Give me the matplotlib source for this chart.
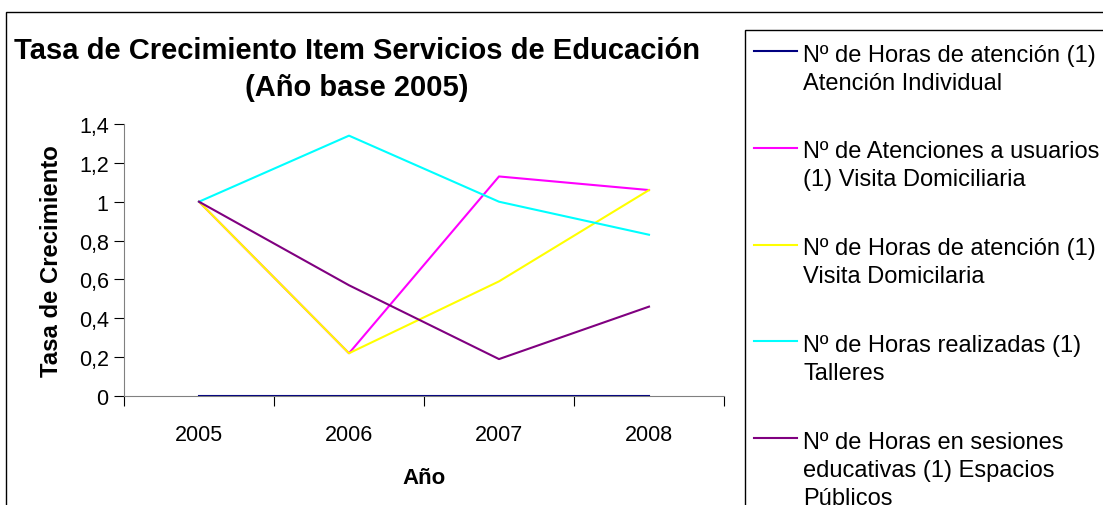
import matplotlib.pyplot as plt
from matplotlib.patches import Rectangle
from matplotlib.lines import Line2D

plt.rcParams['font.family'] = ['Liberation Sans', 'DejaVu Sans']

# datos
years = ['2005', '2006', '2007', '2008']
atencion_individual = [0, 0, 0, 0]
atenciones_visita = [1, 0.22, 1.13, 1.06]
horas_visita = [1, 0.22, 0.59, 1.06]
talleres = [1, 1.34, 1.0, 0.83]
espacios_publicos = [1, 0.57, 0.19, 0.46]

series = [
    (atencion_individual, '#000080', ['Nº de Horas de atención (1)', 'Atención Individual']),
    (atenciones_visita, '#FF00FF', ['Nº de Atenciones a usuarios', '(1) Visita Domiciliaria']),
    (horas_visita, '#FFFF00', ['Nº de Horas de atención (1)', 'Visita Domicilaria']),
    (talleres, '#00FFFF', ['Nº de Horas realizadas (1)', 'Talleres']),
    (espacios_publicos, '#800080', ['Nº de Horas en sesiones', 'educativas (1) Espacios', 'Públicos']),
]

W, H = 1103, 506
fig = plt.figure(figsize=(W / 100, H / 100), dpi=100)

# marco exterior del grafico
fig.patches.append(Rectangle((6 / W, -0.1), 1.2, 1 - 13 / H + 0.1, transform=fig.transFigure,
                             fill=False, edgecolor='black', linewidth=1))

ax = fig.add_axes([124 / W, 1 - 397 / H, 600 / W, 272 / H])
x = list(range(len(years)))
for vals, color, label in series:
    ax.plot(x, vals, color=color, linewidth=1.5)

ax.set_xlim(-0.5, 3.5)
ax.set_ylim(0, 1.4)
ax.set_yticks([0, 0.2, 0.4, 0.6, 0.8, 1.0, 1.2, 1.4])
ax.set_yticklabels(['0', '0,2', '0,4', '0,6', '0,8', '1', '1,2', '1,4'], fontsize=15.5)
ax.set_xticks([-0.5, 0.5, 1.5, 2.5, 3.5])
ax.set_xticklabels([])
ax.set_xticks(x, minor=True)
ax.set_xticklabels(years, minor=True, fontsize=15.5)
ax.tick_params(axis='x', which='minor', length=0, pad=20)
ax.tick_params(axis='x', which='major', length=7, direction='out', color='black')
ax.tick_params(axis='y', length=7, direction='out', color='black', pad=4)
for s in ['top', 'right']:
    ax.spines[s].set_visible(False)
ax.spines['left'].set_color('#808080')
ax.spines['bottom'].set_color('#808080')

ax.set_xlabel('Año', fontsize=16, fontweight='bold', labelpad=16)
ax.set_ylabel('Tasa de Crecimiento', fontsize=17.2, fontweight='bold', labelpad=11)

fig.text(357 / W, 1 - 51 / H, 'Tasa de Crecimiento Item Servicios de Educación',
         ha='center', va='center', fontsize=21, fontweight='bold')
fig.text(357 / W, 1 - 88 / H, '(Año base 2005)',
         ha='center', va='center', fontsize=21, fontweight='bold')

# leyenda dibujada a mano: la clave va a la altura de la primera linea
fig.patches.append(Rectangle((745 / W, -0.1), 1.0, 1 - 31 / H + 0.1, transform=fig.transFigure,
                             fill=False, edgecolor='black', linewidth=1))
for i, (vals, color, label) in enumerate(series):
    y0 = 52.3 + 96.7 * i
    fig.add_artist(Line2D([754 / W, 797 / W], [1 - y0 / H, 1 - y0 / H],
                          transform=fig.transFigure, color=color, linewidth=1.5))
    for k, line in enumerate(label):
        fig.text(803 / W, 1 - (y0 + 9.5 + 28 * k) / H, line, ha='left', va='baseline',
                 fontsize=17)

fig.savefig('out.png', dpi=100)
